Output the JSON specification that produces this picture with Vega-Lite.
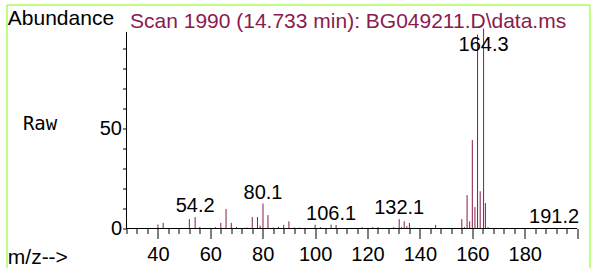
{
  "$schema": "https://vega.github.io/schema/vega-lite/v6.json",
  "width": 583,
  "height": 270,
  "autosize": {"type": "none"},
  "padding": {"left": 6.5, "top": 4.5, "right": 1.5, "bottom": 0},
  "background": "white",
  "config": {"view": {"stroke": "#80ff00", "strokeWidth": 1}, "font": "Liberation Sans"},
  "title": {"text": "Scan 1990 (14.733 min): BG049211.D\\data.ms", "anchor": "start", "frame": "group", "offset": 0, "dx": 123.5, "dy": 44.3, "baseline": "alphabetic", "font": "Liberation Sans", "fontSize": 21, "fontWeight": "normal", "color": "#8b1a4f"},
  "datasets": {
    "peaks": [
      {"mz": 40, "intensity": 2.0}, {"mz": 42, "intensity": 2.8}, {"mz": 52, "intensity": 4.7}, {"mz": 54.2, "intensity": 5.7},
      {"mz": 56, "intensity": 0.8}, {"mz": 58, "intensity": 0.3}, {"mz": 62, "intensity": 0.7}, {"mz": 64, "intensity": 2.8},
      {"mz": 66, "intensity": 9.7}, {"mz": 68, "intensity": 2.8}, {"mz": 70, "intensity": 0.8}, {"mz": 73, "intensity": 0.3},
      {"mz": 74, "intensity": 0.5}, {"mz": 76, "intensity": 5.7}, {"mz": 78, "intensity": 5.7}, {"mz": 79, "intensity": 1.5},
      {"mz": 80.1, "intensity": 12.5}, {"mz": 82, "intensity": 6.7}, {"mz": 84, "intensity": 0.5}, {"mz": 86, "intensity": 0.8},
      {"mz": 88, "intensity": 1.8}, {"mz": 90, "intensity": 3.6}, {"mz": 92, "intensity": 0.5}, {"mz": 94, "intensity": 0.5},
      {"mz": 96, "intensity": 0.3}, {"mz": 100, "intensity": 1.9}, {"mz": 102, "intensity": 0.7}, {"mz": 104, "intensity": 0.3},
      {"mz": 106.1, "intensity": 1.9}, {"mz": 108, "intensity": 1.8}, {"mz": 112, "intensity": 0.3}, {"mz": 114, "intensity": 0.3},
      {"mz": 118, "intensity": 0.6}, {"mz": 120, "intensity": 0.3}, {"mz": 122, "intensity": 0.7}, {"mz": 124, "intensity": 0.6},
      {"mz": 130, "intensity": 0.7}, {"mz": 132.1, "intensity": 4.7}, {"mz": 133, "intensity": 0.8}, {"mz": 134, "intensity": 3.6},
      {"mz": 135, "intensity": 1.2}, {"mz": 136, "intensity": 2.8}, {"mz": 138, "intensity": 0.3}, {"mz": 146, "intensity": 1.8},
      {"mz": 152, "intensity": 0.3}, {"mz": 156, "intensity": 4.7}, {"mz": 157, "intensity": 0.7}, {"mz": 158, "intensity": 16.7},
      {"mz": 159, "intensity": 3.6}, {"mz": 160, "intensity": 44.2}, {"mz": 161, "intensity": 10.7}, {"mz": 162, "intensity": 97},
      {"mz": 163, "intensity": 18.6}, {"mz": 164.3, "intensity": 100}, {"mz": 165, "intensity": 12.7}, {"mz": 166, "intensity": 0.7},
      {"mz": 191.2, "intensity": 0.4}
    ],
    "labels": [
      {"mz": 54.2, "intensity": 5.7}, {"mz": 80.1, "intensity": 12.5}, {"mz": 106.1, "intensity": 1.9},
      {"mz": 132.1, "intensity": 4.7}, {"mz": 164.3, "intensity": 100}, {"mz": 191.2, "intensity": 0.4}
    ]
  },
  "layer": [
    {
      "data": {"name": "peaks"},
      "mark": {"type": "rule", "color": "#8b1a4f", "strokeWidth": 1},
      "encoding": {
        "x": {
          "field": "mz", "type": "quantitative",
          "scale": {"domain": [-17.8, 204.73], "nice": false, "zero": false},
          "axis": {
            "values": [28,32,36,40,44,48,52,56,60,64,68,72,76,80,84,88,92,96,100,104,108,112,116,120,124,128,132,136,140,144,148,152,156,160,164,168,172,176,180,184,188,192,196,200],
            "tickCount": 200,
            "domain": false, "grid": false, "offset": -46,
            "tickColor": "black", "tickWidth": 1,
            "tickSize": {"condition": {"test": "datum.value % 20 === 0", "value": 10}, "value": 5},
            "labelExpr": "datum.value % 20 === 0 && datum.value < 200 ? datum.label : ''",
            "labelFont": "Liberation Sans", "labelFontSize": 20, "labelColor": "black",
            "labelPadding": 21.5, "labelBaseline": "alphabetic",
            "labelOverlap": false, "labelFlush": false, "labelBound": false,
            "title": "m/z-->", "titleX": 0.8, "titleY": 34.5, "titleAlign": "left", "titleAnchor": null,
            "titleBaseline": "alphabetic", "titleFont": "Liberation Sans", "titleFontSize": 21,
            "titleFontWeight": "normal", "titleColor": "black"
          }
        },
        "y": {
          "field": "intensity", "type": "quantitative",
          "scale": {"domain": [-23, 112], "nice": false, "zero": false},
          "axis": {
            "values": [0,10,20,30,40,50,60,70,80,90],
            "tickCount": 100,
            "domain": false, "grid": false, "offset": -120,
            "tickSize": 4, "tickColor": "black", "tickWidth": 1,
            "labelExpr": "datum.value === 0 || datum.value === 50 ? datum.label : ''",
            "labelFont": "Liberation Sans", "labelFontSize": 20, "labelColor": "black",
            "labelPadding": 1, "labelBaseline": "middle",
            "labelOverlap": false, "labelFlush": false, "labelBound": false,
            "title": "Abundance", "titleAngle": 0, "titleAlign": "left", "titleAnchor": null,
            "titleBaseline": "alphabetic", "titleX": -119.2, "titleY": 19.5,
            "titleFont": "Liberation Sans", "titleFontSize": 21, "titleFontWeight": "normal", "titleColor": "black"
          }
        },
        "y2": {"datum": 0}
      }
    },
    {
      "data": {"values": [{}]},
      "mark": {"type": "rule", "color": "black", "strokeWidth": 1},
      "encoding": {"x": {"datum": 28}, "x2": {"datum": 200}, "y": {"datum": 0}}
    },
    {
      "data": {"values": [{}]},
      "mark": {"type": "rule", "color": "black", "strokeWidth": 1},
      "encoding": {"x": {"datum": 28}, "y": {"datum": 0}, "y2": {"datum": 98.3}}
    },
    {
      "data": {"name": "labels"},
      "transform": [{"filter": "datum.intensity < 50"}],
      "mark": {"type": "text", "font": "Liberation Sans", "fontSize": 20, "color": "black", "align": "center", "baseline": "alphabetic", "dy": -5},
      "encoding": {
        "x": {"field": "mz", "type": "quantitative"},
        "y": {"field": "intensity", "type": "quantitative"},
        "text": {"field": "mz", "type": "quantitative", "format": ".1f"}
      }
    },
    {
      "data": {"name": "labels"},
      "transform": [{"filter": "datum.intensity >= 50"}],
      "mark": {"type": "text", "font": "Liberation Sans", "fontSize": 20, "color": "black", "align": "center", "baseline": "alphabetic", "dy": 22},
      "encoding": {
        "x": {"field": "mz", "type": "quantitative"},
        "y": {"field": "intensity", "type": "quantitative"},
        "text": {"field": "mz", "type": "quantitative", "format": ".1f"}
      }
    },
    {
      "data": {"values": [{"t": "Raw"}]},
      "mark": {"type": "text", "font": "DejaVu Sans Mono", "fontSize": 19, "color": "black", "align": "center", "baseline": "alphabetic"},
      "encoding": {"x": {"datum": -5}, "y": {"datum": 49.25}, "text": {"field": "t"}}
    }
  ]
}
